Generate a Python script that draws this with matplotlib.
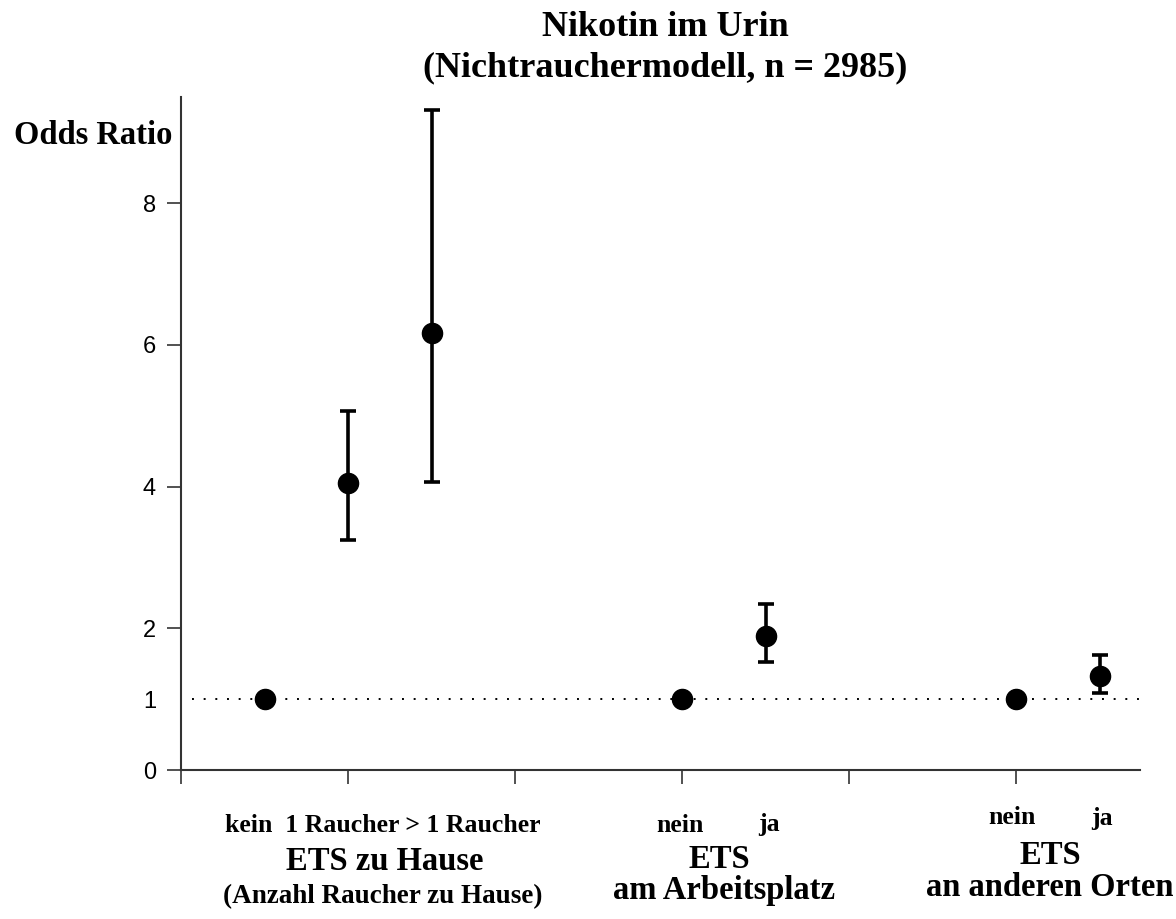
import matplotlib

matplotlib.use("Agg")

import matplotlib.pyplot as plt

# odds ratios with 95% CI
positions = [0.5, 1.0, 1.5, 3.0, 3.5, 5.0, 5.5]
odds = [1.0, 4.05, 6.17, 1.0, 1.89, 1.0, 1.33]
lower = [1.0, 3.25, 4.07, 1.0, 1.53, 1.0, 1.09]
upper = [1.0, 5.07, 9.32, 1.0, 2.34, 1.0, 1.62]
has_ci = [False, True, True, False, True, False, True]

y_ticks = [0, 1, 2, 4, 6, 8]
x_ticks = [0, 1, 2, 3, 4, 5]

sub_labels = ["kein  1 Raucher > 1 Raucher", "nein", "ja", "nein", "ja"]
group_lines = ["ETS zu Hause", "ETS", "am Arbeitsplatz", "ETS", "an anderen Orten"]
group_note = "(Anzahl Raucher zu Hause)"

SERIF = "Liberation Serif"
SANS = "Liberation Sans"
W, H = 1176, 919

fig = plt.figure(figsize=(11.76, 9.19), dpi=100)
ax = fig.add_axes([0.1539, 0.1621, 0.8155, 0.7324])

ax.axhline(1.0, xmin=0.012, xmax=1.0, color="black", linestyle=(0, (1, 5)), linewidth=1.4, zorder=1)

for x, y, lo, hi, ci in zip(positions, odds, lower, upper, has_ci):
    if ci:
        ax.errorbar([x], [y], yerr=[[y - lo], [hi - y]], fmt="none", ecolor="black",
                    elinewidth=2.6, capsize=6, capthick=2.6, zorder=2)
ax.plot(positions, odds, "o", color="black", markersize=14.5, zorder=3, linestyle="none")

ax.set_xlim(0, 5.74)
ax.set_ylim(0, 9.5)
ax.set_yticks(y_ticks)
ax.set_yticklabels([str(t) for t in y_ticks], fontfamily=SANS, fontsize=17)
ax.set_xticks(x_ticks)
ax.set_xticklabels([])
ax.tick_params(axis="both", direction="out", length=10, width=1.2, color="#333333", pad=8)
ax.yaxis.get_major_ticks()[1].tick1line.set_visible(False)

for side in ("top", "right"):
    ax.spines[side].set_visible(False)
for side in ("left", "bottom"):
    ax.spines[side].set_linewidth(1.5)
    ax.spines[side].set_color("#333333")


def px_text(x, y, s, size, ha="center"):
    fig.text(x / W, 1 - y / H, s, ha=ha, va="center", fontfamily=SERIF,
             fontweight="bold", fontsize=size)


px_text(665, 28, "Nikotin im Urin", 26)
px_text(665, 68, "(Nichtrauchermodell, n = 2985)", 26)
px_text(14, 136, "Odds Ratio", 23.5, ha="left")

sub_xy = [(383, 825), (680, 825), (769, 825), (1012, 818), (1102, 818)]
for (sx, sy), s in zip(sub_xy, sub_labels):
    px_text(sx, sy, s, 18.5)

group_xy = [(385, 861), (719, 860), (724, 891), (1050, 855), (1050, 887)]
for (gx, gy), s in zip(group_xy, group_lines):
    px_text(gx, gy, s, 23.5)
px_text(383, 897, group_note, 19.5)

fig.savefig("out.png", dpi=100)
